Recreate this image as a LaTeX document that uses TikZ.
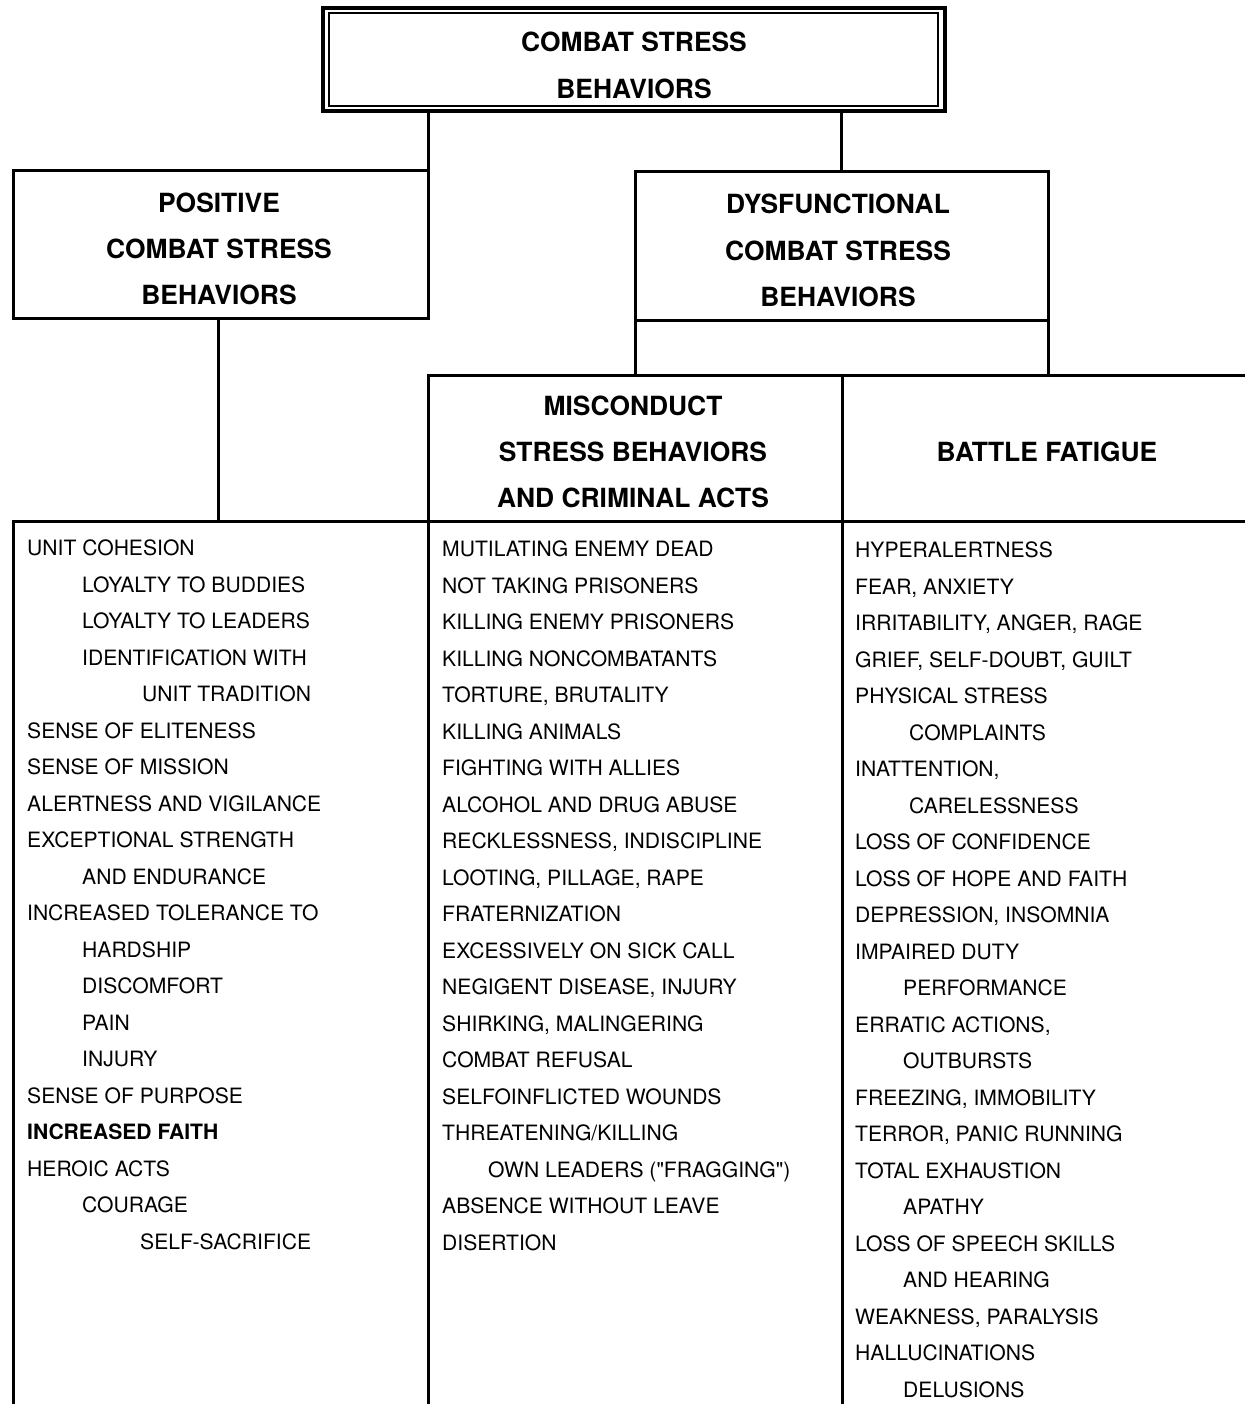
\documentclass[tikz,border=0pt]{standalone}
\usepackage{fontspec}
\setmainfont{TeX Gyre Heros}
\newfontfamily\plainquote{TeX Gyre Heros}
\usetikzlibrary{calc}
\begin{document}
\begin{tikzpicture}[x=1pt,y=-1pt,
  ln/.style={line width=3pt, line cap=rect},
  boxn/.style={draw, line width=3pt, inner sep=0pt, outer sep=0pt, rectangle},
  hd/.style={font=\fontsize{26.4}{30}\selectfont\bfseries, anchor=base, inner sep=0pt},
  it/.style={font=\fontsize{21.1}{25}\selectfont, anchor=base west, inner sep=0pt}]
\useasboundingbox (0,0) rectangle (1244,1404);
\fill[white] (0,0) rectangle (1244,1404);

% top double box
\node[boxn, line width=3.2pt, minimum width=622pt, minimum height=103pt] (topout) at (634,59.5) {};
\node[boxn, line width=2.2pt, minimum width=609pt, minimum height=93pt] (topin) at (633.5,59.5) {};
\node[hd] (t1) at (634,51.4) {COMBAT STRESS};
\node[hd] (t2) at (634,98.4) {BEHAVIORS};

% second level boxes
\node[boxn, minimum width=415pt, minimum height=147pt] (pos) at (220.5,244.5) {};
\node[boxn, minimum width=413pt, minimum height=148pt] (dys) at (841.5,246) {};
\node[hd] (p1) at (219,212.4) {POSITIVE};
\node[hd] (p2) at (219,258.4) {COMBAT STRESS};
\node[hd] (p3) at (219,304.4) {BEHAVIORS};
\node[hd] (d1) at (838,213.4) {DYSFUNCTIONAL};
\node[hd] (d2) at (838,260.4) {COMBAT STRESS};
\node[hd] (d3) at (838,306.4) {BEHAVIORS};

% connectors from top box
\draw[ln] (pos.north east |- topout.south) -- (pos.north east);
\draw[ln] (dys.north |- topout.south) -- (dys.north);

% grid coordinates
\coordinate (rowTL) at (428,375);
\coordinate (rowDiv) at (842,375);
\coordinate (rowTR) at (1244,375);
\coordinate (listTL) at (13,521);
\coordinate (listTR) at (1244,521);
\coordinate (leftB) at (13,1404);
\coordinate (midB) at (428,1404);
\coordinate (divB) at (842,1404);
\coordinate (posB) at (218,318);

% dysfunctional extension
\draw[ln] (dys.south west) -- (dys.south west |- rowTL);
\draw[ln] (dys.south east) -- (dys.south east |- rowTL);

% third row and lists
\draw[ln] (rowTR) -- (rowTL) -- (midB);
\draw[ln] (rowDiv) -- (divB);
\draw[ln] (listTL) -- (listTR);
\draw[ln] (listTL) -- (leftB);
\draw[ln] (posB) -- (posB |- listTL);

\node[hd] (m1) at (633,415.4) {MISCONDUCT};
\node[hd] (m2) at (633,461.4) {STRESS BEHAVIORS};
\node[hd] (m3) at (633,507.4) {AND CRIMINAL ACTS};
\node[hd] (bf) at (1047,461.4) {BATTLE FATIGUE};

% left list
\foreach \x/\t [count=\n] in {
  27/{UNIT COHESION},
  82/{LOYALTY TO BUDDIES},
  82/{LOYALTY TO LEADERS},
  82/{IDENTIFICATION WITH},
  142/{UNIT TRADITION},
  27/{SENSE OF ELITENESS},
  27/{SENSE OF MISSION},
  27/{ALERTNESS AND VIGILANCE},
  27/{EXCEPTIONAL STRENGTH},
  82/{AND ENDURANCE},
  27/{INCREASED TOLERANCE TO},
  82/{HARDSHIP},
  82/{DISCOMFORT},
  82/{PAIN},
  82/{INJURY},
  27/{SENSE OF PURPOSE},
  27/{\bfseries INCREASED FAITH},
  27/{HEROIC ACTS},
  82/{COURAGE},
  140/{SELF-SACRIFICE}}
  \node[it] (L\n) at (\x,{555.5+(\n-1)*36.5}) {\t};

% middle list
\foreach \x/\t [count=\n] in {
  442/{MUTILATING ENEMY DEAD},
  442/{NOT TAKING PRISONERS},
  442/{KILLING ENEMY PRISONERS},
  442/{KILLING NONCOMBATANTS},
  442/{TORTURE, BRUTALITY},
  442/{KILLING ANIMALS},
  442/{FIGHTING WITH ALLIES},
  442/{ALCOHOL AND DRUG ABUSE},
  442/{RECKLESSNESS, INDISCIPLINE},
  442/{LOOTING, PILLAGE, RAPE},
  442/{FRATERNIZATION},
  442/{EXCESSIVELY ON SICK CALL},
  442/{NEGIGENT DISEASE, INJURY},
  442/{SHIRKING, MALINGERING},
  442/{COMBAT REFUSAL},
  442/{SELFOINFLICTED WOUNDS},
  442/{THREATENING/KILLING},
  488/{OWN LEADERS ({\plainquote "}FRAGGING{\plainquote "})},
  442/{ABSENCE WITHOUT LEAVE},
  442/{DISERTION}}
  \node[it] (M\n) at (\x,{556.5+(\n-1)*36.5}) {\t};

% right list
\foreach \x/\t [count=\n] in {
  855/{HYPERALERTNESS},
  855/{FEAR, ANXIETY},
  855/{IRRITABILITY, ANGER, RAGE},
  855/{GRIEF, SELF-DOUBT, GUILT},
  855/{PHYSICAL STRESS},
  909/{COMPLAINTS},
  855/{INATTENTION,},
  909/{CARELESSNESS},
  855/{LOSS OF CONFIDENCE},
  855/{LOSS OF HOPE AND FAITH},
  855/{DEPRESSION, INSOMNIA},
  855/{IMPAIRED DUTY},
  903/{PERFORMANCE},
  855/{ERRATIC ACTIONS,},
  903/{OUTBURSTS},
  855/{FREEZING, IMMOBILITY},
  855/{TERROR, PANIC RUNNING},
  855/{TOTAL EXHAUSTION},
  903/{APATHY},
  855/{LOSS OF SPEECH SKILLS},
  903/{AND HEARING},
  855/{WEAKNESS, PARALYSIS},
  855/{HALLUCINATIONS},
  903/{DELUSIONS}}
  \node[it] (R\n) at (\x,{557.5+(\n-1)*36.5}) {\t};
\end{tikzpicture}
\end{document}
